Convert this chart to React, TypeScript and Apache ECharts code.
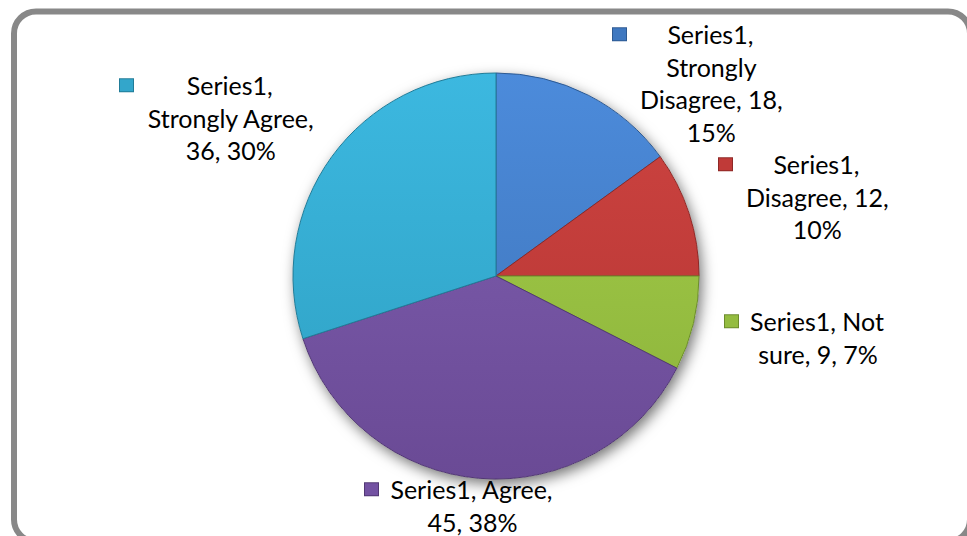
import React, { useEffect, useRef } from "react";
import * as echarts from "echarts";

// ---- data ----
const seriesName = "Series1";
const categories = ["Strongly Disagree", "Disagree", "Not sure", "Agree", "Strongly Agree"];
const values = [18, 12, 9, 45, 36];
const percentLabels = ["15%", "10%", "7%", "38%", "30%"];
// words per wrapped line of each data label
const labelWraps = [
  [1, 1, 2, 1],
  [1, 2, 1],
  [2, 3],
  [2, 2],
  [1, 2, 2],
];

// ---- style / layout ----
const sliceTop = ["#4C8BDB", "#CE4441", "#A6CF4A", "#8060B2", "#3CB8E0"];
const sliceBottom = ["#3D72B6", "#B33432", "#8AB13A", "#6A4A95", "#2E9FC1"];
const markerColors = ["#3F78C0", "#C03A38", "#94BC40", "#7352A2", "#33A6CB"];
const borderColors = ["#2E5A92", "#8E2826", "#6C8C2C", "#523874", "#217C98"];
const labelPos = [
  [613, 18],
  [719, 148],
  [725, 305],
  [365, 473],
  [120, 69],
];

const CX = 496;
const CY = 276;
const R = 203;
const FONT = "Lato, 'Open Sans', sans-serif";
const FS = 25;
const LH = 32.5;

function wrapLabel(i: number): string[] {
  const words = `${seriesName}, ${categories[i]}, ${values[i]}, ${percentLabels[i]}`.split(" ");
  const out: string[] = [];
  let k = 0;
  for (const n of labelWraps[i]) {
    out.push(words.slice(k, k + n).join(" "));
    k += n;
  }
  return out;
}

export default function App() {
  const ref = useRef<HTMLDivElement>(null);
  useEffect(() => {
    if (!ref.current) return;
    const chart = echarts.init(ref.current, undefined, { renderer: "svg" });
    const total = values.reduce((a, b) => a + b, 0);
    const rich: Record<string, any> = {
      g: { width: 12, height: 14, lineHeight: LH },
      p: { width: 27, height: 14, lineHeight: LH },
      t: { align: "center", fontSize: FS, lineHeight: LH, fontFamily: FONT, color: "#000" },
    };
    markerColors.forEach((c, i) => {
      rich["m" + i] = {
        width: 13,
        height: 12,
        backgroundColor: c,
        borderColor: borderColors[i],
        borderWidth: 1,
        lineHeight: LH,
      };
    });
    chart.setOption({
      animation: false,
      backgroundColor: "#fff",
      graphic: [
        {
          type: "rect",
          silent: true,
          shape: { x: 14, y: 11.5, width: 956, height: 530, r: 22 },
          style: { fill: "none", stroke: "#888888", lineWidth: 6 },
          z: 10,
        },
      ],
      series: [
        {
          type: "pie",
          silent: true,
          center: [CX, CY],
          radius: R,
          z: 1,
          label: { show: false },
          labelLine: { show: false },
          data: [
            {
              value: total,
              itemStyle: {
                color: "#fff",
                shadowBlur: 14,
                shadowColor: "rgba(0,0,0,0.55)",
                shadowOffsetX: 3,
                shadowOffsetY: 5,
              },
            },
          ],
        },
        {
          type: "pie",
          name: seriesName,
          center: [CX, CY],
          radius: R,
          startAngle: 90,
          clockwise: true,
          z: 2,
          avoidLabelOverlap: false,
          labelLine: { show: false },
          label: {
            show: true,
            position: "outside",
            fontSize: FS,
            fontFamily: FONT,
            lineHeight: LH,
            color: "#000",
            formatter: (p: any) => {
              const i = p.dataIndex;
              return wrapLabel(i)
                .map((ln, j) => (j === 0 ? `{m${i}| }{g| }{t|${ln}}` : `{p| }{t|${ln}}`))
                .join("\n");
            },
            rich,
          },
          labelLayout: (params: any) => {
            const pos = labelPos[params.dataIndex];
            return { x: pos[0], y: pos[1], align: "left", verticalAlign: "top" };
          },
          data: categories.map((name, i) => ({
            name,
            value: values[i],
            itemStyle: {
              color: {
                type: "linear",
                x: 0,
                y: CY - R,
                x2: 0,
                y2: CY + R,
                global: true,
                colorStops: [
                  { offset: 0, color: sliceTop[i] },
                  { offset: 1, color: sliceBottom[i] },
                ],
              },
              borderColor: borderColors[i],
              borderWidth: 1,
            },
          })),
        },
      ],
    });
    return () => chart.dispose();
  }, []);
  return (
    <div
      ref={ref}
      style={{ position: "fixed", left: 0, top: 0, width: 967, height: 536, background: "#fff" }}
    />
  );
}
